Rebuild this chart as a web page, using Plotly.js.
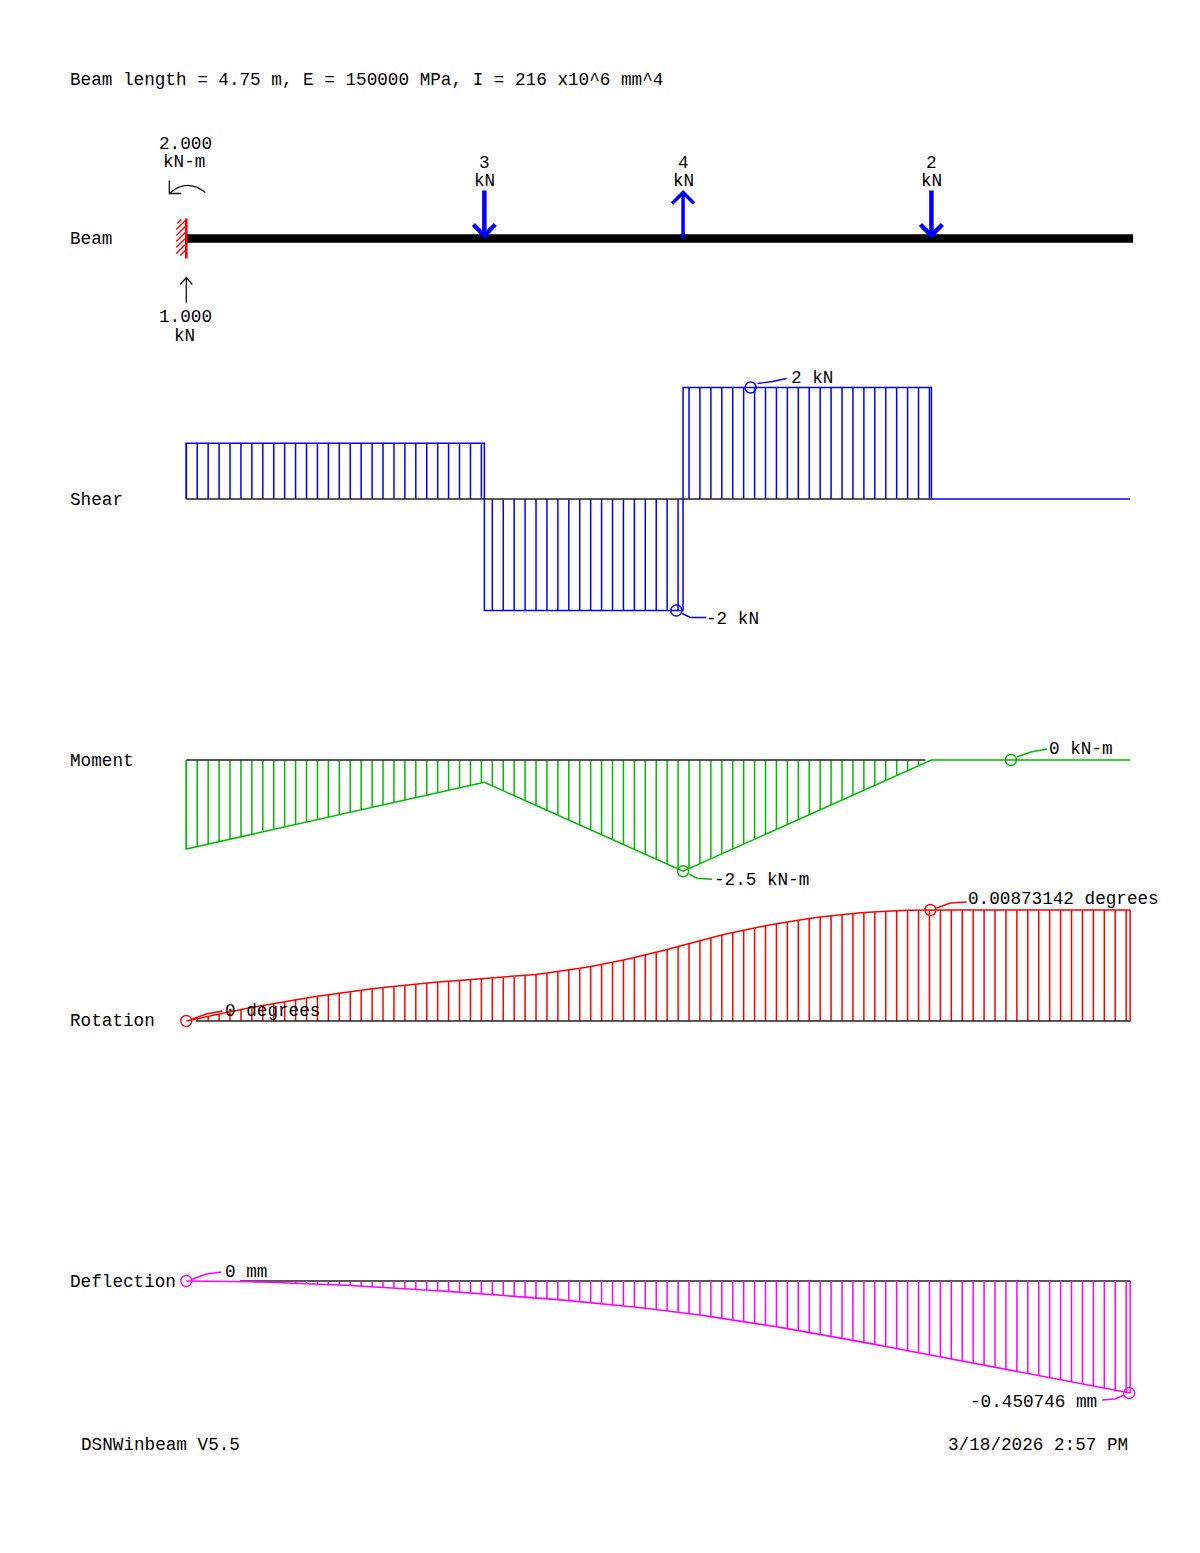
<!DOCTYPE html>
<html><head><meta charset="utf-8">
<script src="https://cdn.plot.ly/plotly-3.0.1.min.js"></script>
<style>html,body{margin:0;padding:0;background:#fff}#c{width:1200px;height:1553px}</style>
</head><body><div id="c"></div>
<script>
// ---------- data (metres, kN, kN-m, degrees, mm) ----------
const stations = [0,0.055,0.11,0.165,0.22,0.275,0.33,0.385,0.44,0.495,0.55,0.605,0.66,0.715,0.77,0.825,0.88,0.935,0.99,1.045,1.1,1.155,1.21,1.265,1.32,1.375,1.43,1.485,1.54,1.595,1.65,1.705,1.76,1.815,1.87,1.925,1.98,2.035,2.09,2.145,2.2,2.255,2.31,2.365,2.42,2.475,2.53,2.585,2.64,2.695,2.75,2.805,2.86,2.915,2.97,3.025,3.08,3.135,3.19,3.245,3.3,3.355,3.41,3.465,3.52,3.575,3.63,3.685,3.74,3.795,3.85,3.905,3.96,4.015,4.07,4.125,4.18,4.235,4.29,4.345,4.4,4.455,4.51,4.565,4.62,4.675,4.73,4.75];
const shearValues = [1,1,1,1,1,1,1,1,1,1,1,1,1,1,1,1,1,1,1,1,1,1,1,1,1,1,1,1,-2,-2,-2,-2,-2,-2,-2,-2,-2,-2,-2,-2,-2,-2,-2,-2,-2,-2,2,2,2,2,2,2,2,2,2,2,2,2,2,2,2,2,2,2,2,2,2,2,2,0,0,0,0,0,0,0,0,0,0,0,0,0,0,0,0,0,0,0];
const momentValues = [-2,-1.945,-1.89,-1.835,-1.78,-1.725,-1.67,-1.615,-1.56,-1.505,-1.45,-1.395,-1.34,-1.285,-1.23,-1.175,-1.12,-1.065,-1.01,-0.955,-0.9,-0.845,-0.79,-0.735,-0.68,-0.625,-0.57,-0.515,-0.58,-0.69,-0.8,-0.91,-1.02,-1.13,-1.24,-1.35,-1.46,-1.57,-1.68,-1.79,-1.9,-2.01,-2.12,-2.23,-2.34,-2.45,-2.44,-2.33,-2.22,-2.11,-2,-1.89,-1.78,-1.67,-1.56,-1.45,-1.34,-1.23,-1.12,-1.01,-0.9,-0.79,-0.68,-0.57,-0.46,-0.35,-0.24,-0.13,-0.02,0,0,0,0,0,0,0,0,0,0,0,0,0,0,0,0,0,0,0];
const rotationValues = [0,0.000192,0.000378,0.00056,0.000735,0.000906,0.001071,0.001231,0.001385,0.001534,0.001678,0.001816,0.001949,0.002077,0.002199,0.002316,0.002428,0.002534,0.002635,0.00273,0.002821,0.002905,0.002985,0.003059,0.003128,0.003192,0.00325,0.003302,0.003354,0.003416,0.003488,0.003571,0.003665,0.00377,0.003885,0.004011,0.004148,0.004295,0.004453,0.004622,0.004801,0.004991,0.005192,0.005404,0.005626,0.005859,0.006099,0.006331,0.006553,0.006763,0.006963,0.007152,0.007331,0.007499,0.007656,0.007802,0.007938,0.008063,0.008177,0.008281,0.008373,0.008456,0.008527,0.008588,0.008638,0.008677,0.008706,0.008724,0.008731,0.008731,0.008731,0.008731,0.008731,0.008731,0.008731,0.008731,0.008731,0.008731,0.008731,0.008731,0.008731,0.008731,0.008731,0.008731,0.008731,0.008731,0.008731,0.008731];
const deflectionValues = [0,-0.00009,-0.00037,-0.00082,-0.00144,-0.00223,-0.00318,-0.00428,-0.00554,-0.00694,-0.00848,-0.01016,-0.01197,-0.0139,-0.01595,-0.01812,-0.0204,-0.02278,-0.02526,-0.02783,-0.0305,-0.03325,-0.03608,-0.03898,-0.04195,-0.04498,-0.04807,-0.05122,-0.05441,-0.05766,-0.06097,-0.06436,-0.06783,-0.0714,-0.07507,-0.07886,-0.08278,-0.08683,-0.09103,-0.09538,-0.0999,-0.1046,-0.10949,-0.11457,-0.11987,-0.12538,-0.13112,-0.13708,-0.14327,-0.14966,-0.15625,-0.16302,-0.16998,-0.1771,-0.18437,-0.19179,-0.19935,-0.20703,-0.21482,-0.22272,-0.23072,-0.23879,-0.24694,-0.25516,-0.26343,-0.27174,-0.28008,-0.28845,-0.29683,-0.30522,-0.3136,-0.32198,-0.33036,-0.33874,-0.34713,-0.35551,-0.36389,-0.37227,-0.38065,-0.38903,-0.39741,-0.4058,-0.41418,-0.42256,-0.43094,-0.43932,-0.4477,-0.450746];
const shearKnotX = [0,0,1.5,1.5,2.5,2.5,3.75,3.75,4.75];
const shearKnotY = [0,1,1,-2,-2,2,2,0,0];
const momentKnotX = [0,0,1.5,2.5,3.75,4.75];
const momentKnotY = [0,-2,-0.5,-2.5,0,0];
const beamX = [0,4.765];
const beamY = [0,0];
const loadX = [1.5,2.5,3.75];
const loadDir = ['down','up','down'];
const loadLabels = ['3','4','2'];
const rowLabels = ['Beam','Shear','Moment','Rotation','Deflection'];
const extremeSeries = ['y2','y2','y3','y3','y4','y4','y5','y5'];
const extremeX = [2.84,2.466,4.15,2.5,3.745,0,0,4.745];
const extremeY = [2,-2,0,-2.5,0.00873142,0,0,-0.450746];
const extremeText = ['2 kN','-2 kN','0 kN-m','-2.5 kN-m','0.00873142 degrees','0 degrees','0 mm','-0.450746 mm'];
const titleText = 'Beam length = 4.75 m, E = 150000 MPa, I = 216 x10^6 mm^4';
const footerLeft = 'DSNWinbeam V5.5';
const footerRight = '3/18/2026 2:57 PM';

// ---------- page geometry ----------
const W=1200,H=1553,X0=186.3,PXM=198.7;
const FONT={family:'"Liberation Mono",monospace',size:17.66,color:'#000'};
const BLUE='#0000ff',GREEN='#00bb00',RED='#ff0000',MAG='#ff00ff';
const LW=1.5;
const rows={y:{zero:238.5,scale:1},y2:{zero:499,scale:55.75},y3:{zero:760,scale:44.5},y4:{zero:1021,scale:12713},y5:{zero:1281,scale:248.5}};
const leaders=[
 {c:BLUE,off:[[7,4],[22,6],[36,9]],dx:40,dy:10,anchor:'left'},
 {c:BLUE,off:[[6,-3],[14,-7],[30,-7]],dx:30,dy:-8,anchor:'left'},
 {c:GREEN,off:[[6,3],[20,8],[36,11]],dx:38,dy:11,anchor:'left'},
 {c:GREEN,off:[[6,-3],[14,-7],[29,-8]],dx:31,dy:-9,anchor:'left'},
 {c:RED,off:[[6,2],[20,7],[36,8]],dx:38,dy:11,anchor:'left'},
 {c:RED,off:[[6,2],[20,7],[36,10]],dx:39,dy:10,anchor:'left'},
 {c:MAG,off:[[6,2],[20,7],[35,9]],dx:39,dy:9,anchor:'left'},
 {c:MAG,off:[[-5,-2],[-14,-6],[-27,-7]],dx:-32,dy:-9,anchor:'right'}];

function hatch(vals,color,yaxis){
  const x=[],y=[];
  stations.forEach((s,i)=>{x.push(s,s,null);y.push(0,vals[i],null);});
  return line(x,y,color,yaxis);
}
function line(x,y,color,yaxis,width){
  return {type:'scatter',mode:'lines',x,y,yaxis,line:{color,width:width||LW},hoverinfo:'skip',showlegend:false,connectgaps:false};
}
const traces=[
  hatch(shearValues,BLUE,'y2'),
  line(shearKnotX,shearKnotY,BLUE,'y2'),
  line([0,3.75],[0,0],'#222','y2',1.4),
  hatch(momentValues,GREEN,'y3'),
  line(momentKnotX,momentKnotY,GREEN,'y3'),
  line([0,3.72],[0,0],'#222','y3',1.4),
  hatch(rotationValues,RED,'y4'),
  line(stations,rotationValues,RED,'y4'),
  line([0.05,4.75],[0,0],'#222','y4',1.4),
  line([0.27,4.75],[0,0],'#222','y5',1.4),
  hatch(deflectionValues,MAG,'y5'),
  line(stations,deflectionValues,MAG,'y5',1.6),
  line(beamX,beamY,'#000','y',8.4)
];
extremeX.forEach((x,i)=>traces.push({type:'scatter',mode:'markers',x:[x],y:[extremeY[i]],yaxis:extremeSeries[i],
  marker:{symbol:'circle-open',size:11,color:leaders[i].c,line:{width:1.4,color:leaders[i].c}},hoverinfo:'skip',showlegend:false}));

const shapes=[], annotations=[];
function anchored(x,yref,path,color,width){
  shapes.push({type:'path',xref:'x',yref,xsizemode:'pixel',ysizemode:'pixel',xanchor:x,yanchor:0,path,
    line:{color,width},layer:'above'});
}
loadX.forEach((x,i)=>{
  const p=loadDir[i]==='down'?'M0,48 L0,3 M-11,14 L0,3 L11,14':'M0,0 L0,46 M-11,35 L0,46 L11,35';
  anchored(x,'y',p,BLUE,loadDir[i]==='down'?4.5:3.5);
});
anchored(0,'y','M0,20 L0,-20',RED,2.6);
anchored(0,'y','M-9,15 L-5,19 M-10,9 L0,19 M-10,3 L0,13 M-10,-3 L0,7 M-10,-9 L0,1 M-10,-15 L0,-5 M-6,-17 L0,-11',RED,1.3);
anchored(0,'y','M0,-64 L0,-39 M-6,-46 L0,-39 L6,-46','#111',1.3);
anchored(0,'y','M-17,58 L-17,45 L-5,45 M-17,45 C-8,53 4,58 19,46','#111',1.3);
leaders.forEach((l,i)=>{
  const pts=l.off.map(o=>o[0]+','+o[1]).join(' L');
  shapes.push({type:'path',xref:'x',yref:extremeSeries[i],xsizemode:'pixel',ysizemode:'pixel',
    xanchor:extremeX[i],yanchor:extremeY[i],path:'M'+pts,line:{color:l.c,width:1.4}});
});

function note(text,x,y,xref,yref,xanchor,extra){
  annotations.push(Object.assign({text,x,y,xref,yref,xanchor,yanchor:'middle',showarrow:false,
    font:FONT,borderpad:0,borderwidth:0},extra||{}));
}
const px=v=>v/W, py=v=>1-v/H;
loadX.forEach((x,i)=>{
  note(loadLabels[i],x,0,'x','y','center',{yshift:75.5});
  note('kN',x,0,'x','y','center',{yshift:57.5});
});
note('2.000',0,0,'x','y','center',{yshift:95,xshift:-1});
note('kN-m',0,0,'x','y','center',{yshift:77,xshift:-2});
note('1.000',0,0,'x','y','center',{yshift:-78,xshift:-1});
note('kN',0,0,'x','y','center',{yshift:-97,xshift:-2});
const rowKeys=['y','y2','y3','y4','y5'];
rowLabels.forEach((t,i)=>note(t,px(70),py(rows[rowKeys[i]].zero+0.5),'paper','paper','left'));
extremeText.forEach((t,i)=>note(t,extremeX[i],extremeY[i],'x',extremeSeries[i],leaders[i].anchor,{xshift:leaders[i].dx,yshift:leaders[i].dy}));
note(footerLeft,px(81),py(1445),'paper','paper','left');
note(footerRight,px(1128),py(1445),'paper','paper','right');

const layout={
  width:W,height:H,margin:{l:0,r:0,t:0,b:0,pad:0},paper_bgcolor:'#fff',plot_bgcolor:'#fff',showlegend:false,
  title:{text:titleText,x:70/W,xref:'paper',xanchor:'left',y:1-79/H,yref:'paper',yanchor:'middle',font:FONT},
  xaxis:{visible:false,range:[-X0/PXM,(W-X0)/PXM],fixedrange:true},
  shapes,annotations
};
Object.keys(rows).forEach(k=>{
  const r=rows[k],name=k==='y'?'yaxis':'yaxis'+k.slice(1);
  layout[name]={visible:false,domain:[0,1],fixedrange:true,range:[-(H-r.zero)/r.scale,r.zero/r.scale]};
  if(k!=='y')layout[name].overlaying='y';
});
Plotly.newPlot('c',traces,layout,{staticPlot:true,displayModeBar:false});
</script></body></html>
